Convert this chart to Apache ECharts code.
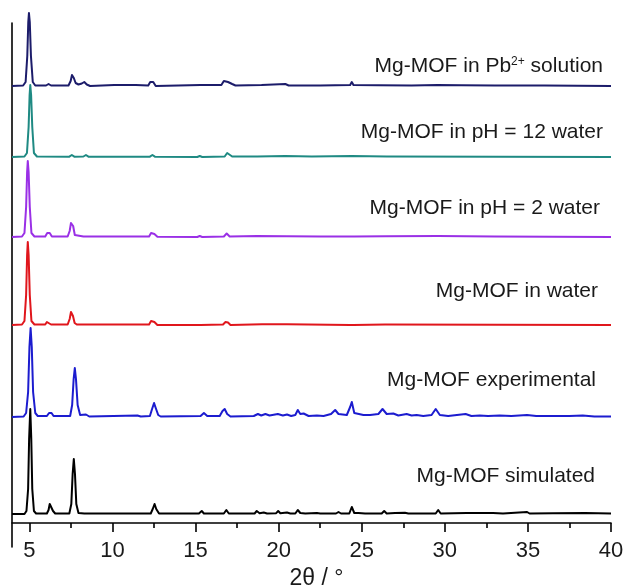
<!DOCTYPE html>
<html>
<head>
<meta charset="utf-8">
<script src="https://cdn.jsdelivr.net/npm/echarts@6/dist/echarts.min.js"></script>
<style>
html,body{margin:0;padding:0;background:#fff;}
#chart{width:626px;height:587px;}
</style>
</head>
<body>
<div id="chart"></div>
<script>
// ---- DATA (2θ in degrees, intensity above each pattern's own baseline, arbitrary units) ----
const xTickLabels = [5, 10, 15, 20, 25, 30, 35, 40];
const xMinorTicks = [7.5, 12.5, 17.5, 22.5, 27.5, 32.5, 37.5];

const seriesNames = [
  'Mg-MOF simulated',
  'Mg-MOF experimental',
  'Mg-MOF in water',
  'Mg-MOF in pH = 2 water',
  'Mg-MOF in pH = 12 water',
  'Mg-MOF in Pb2+ solution'
];

// vertical stacking offset of each pattern (same units as intensity)
const stackOffsets = [33, 130, 222, 310, 390, 461];

const simulated = [
  [3.95,0],[4.7,0],[4.82,3],[4.92,25],[4.98,75],[5.05,105],[5.11,75],[5.17,25],[5.27,3],[5.4,0.5],
  [6.05,0.5],[6.15,4],[6.22,10],[6.27,12],[6.33,9],[6.42,3],[6.55,0.5],
  [7.4,0.5],[7.52,10],[7.6,40],[7.67,55],[7.74,40],[7.82,10],[7.95,1],[8.3,0.5],[8.42,2],[8.55,0.5],
  [12.3,0.5],[12.42,5],[12.53,10],[12.63,5],[12.8,0.5],
  [15.2,0.5],[15.37,3],[15.5,0.5],
  [16.7,0.5],[16.85,4],[17.0,0.5],
  [18.55,0.5],[18.68,3],[18.85,0.8],[19.1,1.5],[19.3,0.5],
  [19.85,0.8],[19.97,3],[20.1,0.8],[20.5,1.5],[20.7,0.5],
  [21.0,0.5],[21.15,4],[21.3,1],[21.42,2.5],[21.6,0.5],
  [22.3,1],[22.5,0.5],[23.45,0.5],[23.6,2],[23.75,0.5],
  [24.25,0.5],[24.4,7],[24.55,1],[24.8,1],[25.2,0.5],
  [26.2,0.5],[26.35,3],[26.5,0.5],[27.0,1],[27.6,1.2],[27.8,0.5],
  [29.45,0.5],[29.6,4],[29.75,0.5],[31.3,1],[32.9,1],[33.5,0.5],
  [34.95,2],[35.1,0.5],[36.5,0.8],[38.45,1],[40,0.5]
];

const experimental = [
  [3.95,0],[4.65,0.5],[4.8,4],[4.92,25],[5.0,70],[5.07,89],[5.14,70],[5.22,25],[5.35,4],[5.5,1],
  [6.05,1],[6.18,4],[6.25,6],[6.33,4],[6.45,1],
  [7.45,1],[7.57,12],[7.66,38],[7.73,49],[7.8,38],[7.9,12],[8.05,2],[8.4,2.5],[8.6,0.5],
  [11.5,1.5],[11.7,0.5],[12.25,1],[12.38,8],[12.5,14],[12.6,9],[12.75,2],[12.9,0.5],
  [15.3,1],[15.5,4],[15.7,1],
  [16.45,1],[16.62,6],[16.75,8],[16.9,3],[17.1,0.5],
  [18.5,1],[18.75,3],[18.95,1.5],[19.2,3],[19.45,1.5],[19.95,3],[20.25,1.5],
  [20.5,2.5],[20.75,1],[21.0,2],[21.15,7],[21.3,3],[21.5,3.5],[21.8,1],[22.3,1.5],[22.7,1],
  [23.15,3],[23.4,7],[23.6,3],[24.1,2],[24.3,10],[24.4,15],[24.55,4],[25.1,2],[25.5,2],
  [26.0,3],[26.25,8],[26.5,3],[26.9,3.5],[27.2,1.5],[27.7,3],[28.0,1.5],[28.3,2],[28.7,1],
  [29.2,2],[29.45,8],[29.7,2],[30.2,1],[31.25,3],[31.6,1],[32.1,1.5],[32.6,1],
  [33.3,1.5],[34.0,1],[34.95,2],[35.5,1],[36.5,1],[37.5,1],[38.3,1.5],[39.0,0.5],[40,0.5]
];

const inWater = [
  [3.95,0],[4.55,0.5],[4.7,4],[4.8,30],[4.86,70],[4.9,83],[4.95,70],[5.02,30],[5.12,4],[5.3,0.5],
  [5.95,0.5],[6.05,3],[6.1,4],[6.17,2.5],[6.3,0.5],
  [7.3,0.5],[7.42,6],[7.5,13],[7.55,14],[7.62,9],[7.72,2],[7.85,0.5],[8.3,0.5],[8.4,1.5],[8.5,0.5],
  [12.2,0.5],[12.32,4],[12.42,6],[12.52,3],[12.7,0],
  [15.1,0],[15.2,1],[15.3,0],
  [16.65,0.5],[16.8,3],[16.95,2.5],[17.1,0],[19.0,0.8],[20.5,0.8],
  [24.3,0],[24.4,1.5],[24.5,0],[26.4,0.5],[40,0]
];

const inPH2 = [
  [3.95,0],[4.55,0.5],[4.7,4],[4.8,30],[4.86,65],[4.9,76],[4.95,65],[5.02,30],[5.12,4],[5.3,0.5],
  [5.95,0.5],[6.07,4],[6.15,6],[6.22,4],[6.35,0.5],
  [7.3,0.5],[7.42,6],[7.5,14],[7.56,16],[7.63,11],[7.73,2],[7.85,0.5],[8.25,0.5],[8.35,2],[8.45,0.5],
  [12.2,0.5],[12.32,4],[12.42,6],[12.52,3],[12.7,0.3],
  [15.1,0],[15.25,1],[15.4,0],
  [16.7,0.5],[16.87,3.5],[17.05,0.5],[18.7,1],[20.5,0.8],[22.5,0.5],
  [24.3,0.5],[24.4,2],[24.55,0.5],[26.4,0.8],[29.6,1],[33,0.5],[40,0]
];

const inPH12 = [
  [3.95,0],[4.7,0.5],[4.85,4],[4.95,30],[5.01,62],[5.05,72],[5.1,62],[5.17,30],[5.27,4],[5.45,0.5],
  [7.4,0.3],[7.55,2],[7.7,0.3],[8.25,0.5],[8.4,2],[8.55,0.3],
  [12.25,0.3],[12.4,2],[12.55,0.3],[15.1,0],[15.25,1],[15.4,0],
  [16.75,0.5],[16.9,4],[17.0,4],[17.2,0.5],[18.7,0.5],[20.4,1],[22,0.5],
  [24.4,1],[26.5,0.5],[40,0]
];

const inPb = [
  [3.95,0],[4.62,0.5],[4.77,4],[4.87,30],[4.93,64],[4.97,73],[5.02,64],[5.09,30],[5.2,4],[5.35,0.5],
  [6.0,0.5],[6.15,2],[6.3,0.5],
  [7.35,0.5],[7.48,5],[7.56,11],[7.6,12],[7.67,8],[7.78,3],[7.95,1.5],[8.15,2.5],[8.3,4],[8.45,1.5],[8.65,0],
  [10.1,1],[11.4,1],[12.15,0.5],[12.27,4],[12.35,6],[12.45,4],[12.6,0],
  [15.3,1],[16.55,1],[16.7,5],[16.82,6],[16.95,4],[17.2,2],[17.4,0.5],
  [18.97,1],[20.4,2],[20.6,0.5],[22.5,0.5],[24.3,1],[24.4,4],[24.5,1],
  [26.0,0.8],[28,0.5],[29.55,1],[31,0.8],[33,0.5],[36,0.5],[40,0]
];

const patterns = [simulated, experimental, inWater, inPH2, inPH12, inPb];

// ---- STYLE / LAYOUT ----
const colors = ['#000000', '#1c1ccf', '#e0161c', '#9a30e6', '#1f8a83', '#1c1c6a'];
const FONT = "'Liberation Sans', Arial, Helvetica, sans-serif";
const labelRight = [595, 596, 598, 600, 603, 603];
const labelY = [476, 380, 291, 208, 132, 66];

const chart = echarts.init(document.getElementById('chart'), null, {renderer: 'canvas'});

const series = patterns.map((pts, i) => ({
  name: seriesNames[i],
  type: 'line',
  data: pts.map(p => [p[0], p[1] + stackOffsets[i]]),
  showSymbol: false,
  symbol: 'none',
  clip: false,
  smooth: false,
  lineStyle: {color: colors[i], width: 2, join: 'round'},
  z: 2 + i,
  silent: true,
  animation: false
}));

function richLabel(s) {
  const idx = s.indexOf('Pb2+');
  if (idx < 0) return '{n|' + s + '}';
  return '{n|' + s.slice(0, idx + 2) + '}{s|2+}{n|' + s.slice(idx + 4) + '}';
}

const graphics = seriesNames.map((s, i) => ({
  type: 'text',
  x: labelRight[i],
  y: labelY[i],
  z: 100,
  style: {
    text: richLabel(s),
    align: 'right',
    verticalAlign: 'middle',
    fill: '#1a1a1a',
    rich: {
      n: {fontSize: 21, fontFamily: FONT, fill: '#1a1a1a'},
      s: {fontSize: 12, fontFamily: FONT, fill: '#1a1a1a', verticalAlign: 'top'}
    }
  }
}));

const option = {
  backgroundColor: '#ffffff',
  animation: false,
  grid: {left: 12, right: 15, top: 23, bottom: 40, containLabel: false, outerBoundsMode: 'none'},
  xAxis: [
    {
      type: 'value', min: 3.95, max: 40, position: 'bottom', offset: -24,
      axisLine: {show: true, onZero: false, lineStyle: {color: '#000', width: 1.6}},
      axisTick: {show: true, inside: false, length: 9, customValues: xTickLabels,
                 lineStyle: {color: '#000', width: 1.6}},
      axisLabel: {show: true, customValues: xTickLabels, margin: 17, fontSize: 22,
                  fontFamily: FONT, color: '#1a1a1a'},
      splitLine: {show: false},
      name: '2θ / °', nameLocation: 'middle', nameGap: 37,
      nameTextStyle: {fontSize: 23, fontFamily: FONT, color: '#1a1a1a', padding: [0, 0, 0, 10]}
    },
    {
      type: 'value', min: 3.95, max: 40, position: 'bottom', offset: -24,
      axisLine: {show: false, onZero: false},
      axisTick: {show: true, inside: false, length: 5, customValues: xMinorTicks,
                 lineStyle: {color: '#000', width: 1.6}},
      axisLabel: {show: false},
      splitLine: {show: false}
    }
  ],
  yAxis: {
    type: 'value', min: 0, max: 524,
    axisLine: {show: true, onZero: false, lineStyle: {color: '#000', width: 1.6}},
    axisTick: {show: false},
    axisLabel: {show: false},
    splitLine: {show: false}
  },
  series: series,
  graphic: graphics
};

chart.setOption(option);
</script>
</body>
</html>
